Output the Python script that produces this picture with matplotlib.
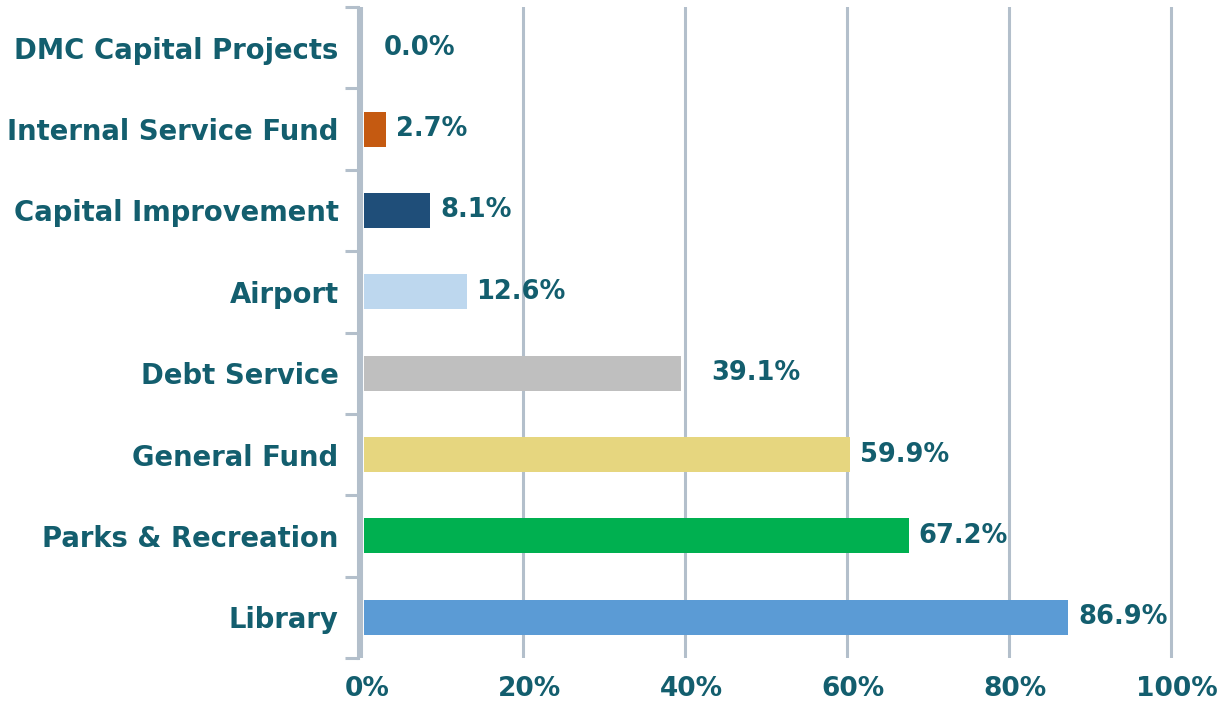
import numpy as np
import matplotlib.pyplot as plt
import matplotlib.transforms as mtransforms

categories = ['DMC Capital Projects', 'Internal Service Fund', 'Capital Improvement',
              'Airport', 'Debt Service', 'General Fund', 'Parks & Recreation', 'Library']
values = [0.0, 2.7, 8.1, 12.6, 39.1, 59.9, 67.2, 86.9]
colors = ['#ffffff', '#c55a11', '#1f4e79', '#bdd7ee', '#bfbfbf', '#e6d67f', '#00b050', '#5b9bd5']
xticks = [0, 20, 40, 60, 80, 100]
xtick_labels = ['0%', '20%', '40%', '60%', '80%', '100%']

text_color = '#135e6e'
grid_color = '#b3bfcb'
plt.rcParams['font.family'] = ['DejaVu Sans']
plt.rcParams['font.weight'] = 'bold'

fig = plt.figure(figsize=(12.28, 7.09), dpi=100)
ax = fig.add_axes([358 / 1228, 1 - 658 / 709, 816 / 1228, 651 / 709])

y = np.arange(len(categories))
ax.barh(y, values, height=0.43, color=colors, zorder=3, left=0.4)

for i, v in enumerate(values):
    pad = 30 if categories[i] == 'Debt Service' else 10
    ax.annotate(f'{v:.1f}%', (v + 0.4 if v > 0 else 1.5, i), xytext=(pad * 0.72, 0),
                textcoords='offset points', va='center', ha='left',
                fontsize=18.5, fontweight='bold', color=text_color, zorder=4)

ax.set_xlim(-0.4, 100.35)
ax.set_ylim(len(categories) - 0.5, -0.5)

ax.set_xticks(xticks)
ax.set_xticklabels(xtick_labels, fontsize=19, fontweight='bold', color=text_color)
ax.tick_params(axis='x', length=0, pad=13)
shift = mtransforms.ScaledTranslation(6 / 100, 0, fig.dpi_scale_trans)
for lab in ax.get_xticklabels():
    lab.set_transform(lab.get_transform() + shift)

ax.set_yticks(y)
ax.set_yticklabels(categories, fontsize=19.8, fontweight='bold', color=text_color)
ax.set_yticks(np.arange(len(categories) + 1) - 0.5, minor=True)
ax.tick_params(axis='y', which='major', length=0, pad=14)
ax.tick_params(axis='y', which='minor', length=9.5, width=2.2, color=grid_color)

ax.grid(axis='x', color=grid_color, linewidth=2.2, zorder=0)
for s in ['top', 'right', 'bottom']:
    ax.spines[s].set_visible(False)
ax.spines['left'].set_color(grid_color)
ax.spines['left'].set_linewidth(2.2)

fig.savefig('out.png', dpi=100)
